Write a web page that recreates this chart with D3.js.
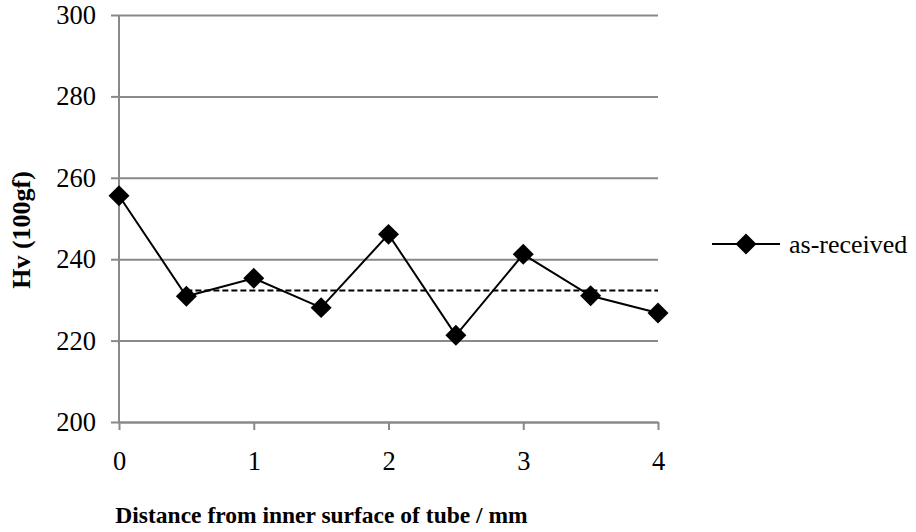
<!DOCTYPE html>
<html>
<head>
<meta charset="utf-8">
<script src="https://cdn.jsdelivr.net/npm/d3@7"></script>
<style>
    body { margin: 0; background: #fff; }
    svg { display: block; font-family: "Liberation Serif", "Times New Roman", serif; }
</style>
</head>
<body>
<div id="chart"></div>
<script>
// data
const distance = [0, 0.5, 1, 1.5, 2, 2.5, 3, 3.5, 4];
const hardness = [255.6, 230.9, 235.3, 228.1, 246.1, 221.3, 241.2, 231.0, 226.8];
const meanLevel = 232.3;
const meanFrom = 0.5;
const meanTo = 4;
const xTicks = [0, 1, 2, 3, 4];
const yTicks = [200, 220, 240, 260, 280, 300];
const seriesName = "as-received";

function drawChart()
{
    const width = 916;
    const height = 532;
    const gridColor = "#898989";
    const serif = "'Liberation Serif', 'Times New Roman', serif";

    const svg = d3.select("#chart").append("svg")
        .attr("width", width)
        .attr("height", height)
        .attr("viewBox", [0, 0, width, height]);

    const xScale = d3.scaleLinear([0, 4], [119, 658]);
    const yScale = d3.scaleLinear([200, 300], [422, 15]);

    // y axis with gridlines
    svg.append("g")
        .attr("transform", "translate(119,0)")
        .call(d3.axisLeft(yScale).tickValues(yTicks).tickFormat(d3.format("d")).tickSize(8).tickPadding(15))
        .attr("font-family", serif)
        .call(g => g.select(".domain").remove())
        .call(g => g.selectAll(".tick line")
            .attr("stroke", gridColor)
            .attr("stroke-width", 2))
        .call(g => g.selectAll(".tick line").clone()
            .attr("x1", 0)
            .attr("x2", xScale(4) - xScale(0)))
        .call(g => g.selectAll(".tick text")
            .attr("fill", "#000")
            .attr("font-size", 26.5));

    // vertical axis line
    svg.append("line")
        .attr("x1", xScale(0)).attr("x2", xScale(0))
        .attr("y1", yScale(300)).attr("y2", yScale(200))
        .attr("stroke", gridColor)
        .attr("stroke-width", 2);

    // x axis
    svg.append("g")
        .attr("transform", `translate(0,${yScale(200)})`)
        .call(d3.axisBottom(xScale).tickValues(xTicks).tickFormat(d3.format("d")).tickSize(8).tickPadding(21).tickSizeOuter(0))
        .attr("font-family", serif)
        .call(g => g.select(".domain").attr("stroke", gridColor).attr("stroke-width", 2))
        .call(g => g.selectAll(".tick line").attr("stroke", gridColor).attr("stroke-width", 2))
        .call(g => g.selectAll(".tick text")
            .attr("fill", "#000")
            .attr("font-size", 26.5));

    // axis titles
    svg.append("text")
        .attr("x", (xScale(0) + xScale(4)) / 2 - 67)
        .attr("y", 523)
        .attr("text-anchor", "middle")
        .attr("font-weight", "bold")
        .attr("font-size", 23.5)
        .text("Distance from inner surface of tube / mm");

    svg.append("text")
        .attr("transform", "translate(30,230) rotate(-90)")
        .attr("text-anchor", "middle")
        .attr("font-weight", "bold")
        .attr("font-size", 26)
        .text("Hv (100gf)");

    // dashed mean line
    svg.append("line")
        .attr("x1", xScale(meanFrom)).attr("x2", xScale(meanTo))
        .attr("y1", yScale(meanLevel)).attr("y2", yScale(meanLevel))
        .attr("stroke", "#000")
        .attr("stroke-width", 2)
        .attr("stroke-dasharray", "6,3");

    // series line
    const line = d3.line()
        .x((d, i) => xScale(distance[i]))
        .y(d => yScale(d));
    svg.append("path")
        .datum(hardness)
        .attr("fill", "none")
        .attr("stroke", "#000")
        .attr("stroke-width", 2)
        .attr("d", line);

    // diamond markers
    const diamond = d3.symbol().type(d3.symbolSquare).size(220);
    svg.append("g")
        .selectAll("path")
        .data(hardness)
        .join("path")
        .attr("transform", (d, i) => `translate(${xScale(distance[i])},${yScale(d)}) rotate(45)`)
        .attr("d", diamond)
        .attr("fill", "#000");

    // legend
    const legend = svg.append("g").attr("transform", "translate(712,244)");
    legend.append("line")
        .attr("x1", 0).attr("x2", 68)
        .attr("stroke", "#000")
        .attr("stroke-width", 2);
    legend.append("path")
        .attr("transform", "translate(34,0) rotate(45)")
        .attr("d", diamond)
        .attr("fill", "#000");
    legend.append("text")
        .attr("x", 77)
        .attr("y", 9)
        .attr("font-size", 26)
        .text(seriesName);
}

drawChart();
</script>
</body>
</html>
